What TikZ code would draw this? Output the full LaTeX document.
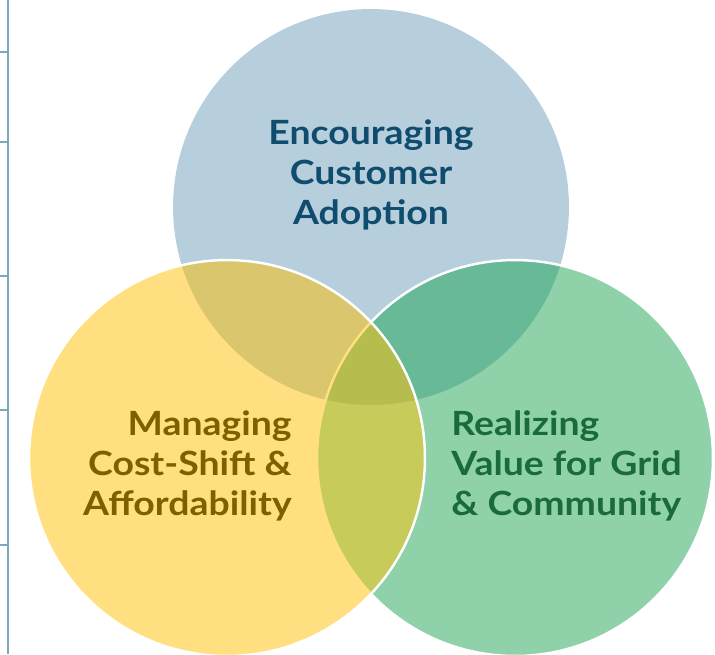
\documentclass[tikz,border=0pt]{standalone}
\usepackage{fontspec}
\setmainfont{Lato}[FakeStretch=1.12]
\usetikzlibrary{positioning}
\definecolor{adoptfill}{HTML}{B7CFDC}
\definecolor{costfill}{HTML}{FFDF80}
\definecolor{valuefill}{HTML}{8FD2A9}
\definecolor{costadopt}{HTML}{D9C66D}
\definecolor{adoptvalue}{HTML}{67B997}
\definecolor{costvalue}{HTML}{C7CB59}
\definecolor{allthree}{HTML}{B4BD4D}
\definecolor{adopttext}{HTML}{0F4C6E}
\definecolor{costtext}{HTML}{7F6000}
\definecolor{valuetext}{HTML}{1A6B3A}
\definecolor{axisline}{HTML}{7EA6BE}
\def\rad{3.96cm}

\begin{document}
\begin{tikzpicture}[x=0.02cm,y=-0.02cm,
heading/.style={font=\fontsize{19}{22.9}\selectfont\bfseries,inner sep=0pt},
rim/.style={draw=white,line width=1.4pt},
axis/.style={draw=axisline,line width=1.1pt}]
\useasboundingbox (0,0) rectangle (715,654);
% circle centres
\coordinate (adopt) at (371,207);
\coordinate (cost) at (227,458);
\coordinate (value) at (515,458);
% side rule
\draw[axis] (8,0)--(8,654);
\foreach \y in {52,142,276,410,545}
  \draw[axis] (0,\y)--(8,\y);
% circles and overlaps
\fill[adoptfill] (adopt) circle[radius=\rad];
\fill[valuefill] (value) circle[radius=\rad];
\begin{scope}
\clip (adopt) circle[radius=\rad];
\fill[adoptvalue] (value) circle[radius=\rad];
\end{scope}
\draw[rim] (value) circle[radius=\rad];
\fill[costfill] (cost) circle[radius=\rad];
\begin{scope}
\clip (cost) circle[radius=\rad];
\fill[costadopt] (adopt) circle[radius=\rad];
\fill[costvalue] (value) circle[radius=\rad];
\begin{scope}
\clip (adopt) circle[radius=\rad];
\fill[allthree] (value) circle[radius=\rad];
\end{scope}
\draw[rim,draw=costfill] (value) circle[radius=\rad];
\end{scope}
\draw[rim] (cost) circle[radius=\rad];
% texts
\node[heading,text=adopttext,align=center] (adoptlabel) at (371,175)
{Encouraging\\Customer\\Adoption};
\node[heading,text=costtext,align=right,anchor=east] (costlabel) at (292,466)
{Managing\\Cost-Shift \&\\Affordability};
\node[heading,text=valuetext,align=left,anchor=west] (valuelabel) at (451,466)
{Realizing\\Value for Grid\\\& Community};
\end{tikzpicture}
\end{document}
